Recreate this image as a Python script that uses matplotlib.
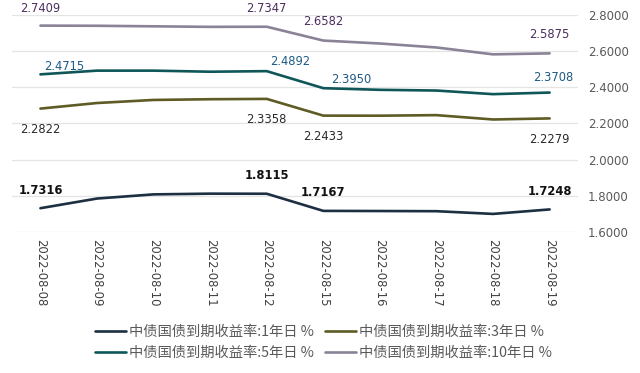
import matplotlib
matplotlib.use("Agg")
import matplotlib.pyplot as plt
from matplotlib.ticker import FormatStrFormatter

# data
dates = ['2022-08-08', '2022-08-09', '2022-08-10', '2022-08-11', '2022-08-12',
         '2022-08-15', '2022-08-16', '2022-08-17', '2022-08-18', '2022-08-19']
y1 = [1.7316, 1.785, 1.808, 1.812, 1.8115, 1.7167, 1.716, 1.715, 1.700, 1.7248]
y3 = [2.2822, 2.313, 2.330, 2.334, 2.3358, 2.2433, 2.243, 2.246, 2.222, 2.2279]
y5 = [2.4715, 2.492, 2.492, 2.486, 2.4892, 2.3950, 2.386, 2.382, 2.362, 2.3708]
y10 = [2.7409, 2.740, 2.737, 2.734, 2.7347, 2.6582, 2.642, 2.620, 2.582, 2.5875]
names = ['中债国债到期收益率:1年日 %', '中债国债到期收益率:3年日 %',
         '中债国债到期收益率:5年日 %', '中债国债到期收益率:10年日 %']
label_idx = [0, 4, 5, 9]

colors = ['#1d2f42', '#5e5c24', '#0f5659', '#8a8398']
label_colors = ['#111111', '#2a2a2a', '#1d5a85', '#4a2d5e']

fig = plt.figure(figsize=(6.4, 3.73), dpi=100)
ax = fig.add_axes([0.019, 0.378, 0.884, 0.582])

x = list(range(len(dates)))
series = [y1, y3, y5, y10]
lines = []
for s, c, n in zip(series, colors, names):
    ln, = ax.plot(x, s, color=c, lw=1.9, label=n, solid_capstyle='round')
    lines.append(ln)

# point labels
offs_1 = [(0, 18), (0, 18), (0, 18), (0, 18)]
offs_3 = [(0, -21), (0, -21), (0, -21), (0, -21)]
offs_5 = [(24, 8), (23, 10), (28, 9), (4, 15)]
offs_10 = [(0, 17), (0, 18), (0, 19), (0, 19)]
all_offs = [offs_1, offs_3, offs_5, offs_10]
for k, (s, offs) in enumerate(zip(series, all_offs)):
    for i, o in zip(label_idx, offs):
        ax.annotate('%.4f' % s[i], (i, s[i]), xytext=o, textcoords='offset pixels',
                    ha='center', va='center', fontsize=8.3,
                    color=label_colors[k], fontweight='bold' if k == 0 else 'normal')

ax.set_xlim(-0.5, 9.5)
ax.set_ylim(1.6, 2.8)
ax.set_yticks([1.6, 1.8, 2.0, 2.2, 2.4, 2.6, 2.8])
ax.yaxis.set_major_formatter(FormatStrFormatter('%.4f'))
ax.yaxis.tick_right()
ax.tick_params(axis='y', length=0, pad=7, labelsize=8.5, labelcolor='#595959')
ax.set_xticks(x)
ax.set_xticklabels(dates, rotation=-90, fontsize=8.4, color='#404040')
ax.tick_params(axis='x', length=0, pad=5)
ax.grid(axis='y', color='#e4e4e4', lw=0.9)
ax.set_axisbelow(True)
for sp in ax.spines.values():
    sp.set_visible(False)

# legend fills columns first, so reorder to get 1Y,3Y on row one
order = [0, 2, 1, 3]
fig.legend([lines[i] for i in order], [names[i] for i in order],
           loc='lower center', bbox_to_anchor=(0.505, 0.0), ncol=2, frameon=False,
           prop={'family': ['Noto Sans CJK SC', 'DejaVu Sans'], 'size': 10.3},
           handlelength=2.2, handletextpad=0.15, columnspacing=0.8,
           labelspacing=0.5, labelcolor='#5a5a5a')

fig.savefig('out.png', dpi=100, facecolor='white')
